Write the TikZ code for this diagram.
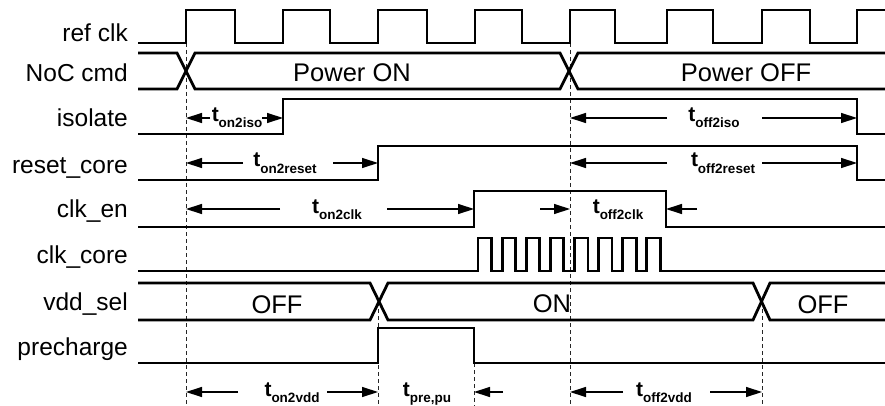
\documentclass[tikz,border=0pt]{standalone}
\usepackage{fontspec}
\setmainfont{Liberation Sans}
\usetikzlibrary{arrows.meta}
\newcommand\tmlab[1]{t\raisebox{-6pt}{\fontsize{13.5}{13.5}\selectfont #1}}
\begin{document}
\begin{tikzpicture}[x=1pt,y=-1pt,
  wave/.style={line width=2.8pt, line join=miter},
  sig/.style={anchor=base east, inner sep=0pt, font=\fontsize{24.5}{26}\selectfont},
  big/.style={anchor=base, inner sep=0pt, font=\fontsize{25.5}{27}\selectfont},
  tarr/.style={line width=1.3pt, -{Triangle[length=16pt 0,width=10pt 0]}},
  guide/.style={line width=0.9pt, dash pattern=on 4pt off 3pt, black!85},
  tlab/.style={anchor=base, inner sep=0pt, font=\bfseries\fontsize{21}{22}\selectfont}]
\fill[white] (0,0) rectangle (885,406);
\useasboundingbox (0,0) rectangle (885,406);

% signal names
\node[sig] (lref) at (128,42) {ref clk};
\node[sig] (lnoc) at (128,82) {NoC cmd};
\node[sig] (liso) at (128,127) {isolate};
\node[sig] (lrst) at (128,173) {reset\_core};
\node[sig] (len)  at (128,217) {clk\_en};
\node[sig] (lcc)  at (128,263) {clk\_core};
\node[sig] (lvdd) at (128,310) {vdd\_sel};
\node[sig] (lpre) at (128,355) {precharge};

% guide lines
\draw[guide] (186,43) -- (186,406);
\draw[guide] (570,43) -- (570,406);
\draw[guide] (378,302) -- (378,406);
\draw[guide] (474,363) -- (474,406);
\draw[guide] (762,302) -- (762,406);

% ref clk
\draw[wave] (138,43) -- (186,43) -- (186,10) -- (235,10) -- (235,43) -- (283,43) -- (283,10)
  -- (330,10) -- (330,43) -- (378,43) -- (378,10) -- (427,10) -- (427,43) -- (475,43) -- (475,10)
  -- (522,10) -- (522,43) -- (570,43) -- (570,10) -- (615,10) -- (615,43) -- (667,43) -- (667,10)
  -- (713,10) -- (713,43) -- (762,43) -- (762,10) -- (810,10) -- (810,43) -- (857,43) -- (857,10) -- (888,10);

% NoC cmd
\draw[wave] (138,53) -- (177,53) -- (195,89) -- (560,89) -- (578,53) -- (888,53);
\draw[wave] (138,89) -- (177,89) -- (195,53) -- (560,53) -- (578,89) -- (888,89);
\node[big] (pon) at (352,82) {Power ON};
\node[big] (poff) at (746,82) {Power OFF};

% isolate
\draw[wave] (138,134) -- (283,134) -- (283,99) -- (857,99) -- (857,134) -- (888,134);
% reset_core
\draw[wave] (138,180) -- (378,180) -- (378,146) -- (857,146) -- (857,180) -- (888,180);
% clk_en
\draw[wave] (138,227) -- (474,227) -- (474,191) -- (666,191) -- (666,227) -- (888,227);
% clk_core
\draw[wave] (138,271) foreach \k in {0,...,7} {
  -- ({478+24.1*\k},271) -- ({478+24.1*\k},238) -- ({491.5+24.1*\k},238) -- ({491.5+24.1*\k},271) }
  -- (888,271);
% vdd_sel
\draw[wave] (138,283) -- (370,283) -- (388,320) -- (753,320) -- (770,283) -- (888,283);
\draw[wave] (138,320) -- (370,320) -- (388,283) -- (753,283) -- (770,320) -- (888,320);
\node[big] (voff1) at (277,313) {OFF};
\node[big] (von) at (552,312) {ON};
\node[big] (voff2) at (823,313) {OFF};
% precharge
\draw[wave] (138,363) -- (378,363) -- (378,328) -- (474,328) -- (474,363) -- (888,363);

% timing labels
\node[tlab] (ton2iso) at (237,122) {\tmlab{on2iso}};
\node[tlab] (toff2iso) at (714,122) {\tmlab{off2iso}};
\node[tlab] (ton2reset) at (285,167) {\tmlab{on2reset}};
\node[tlab] (toff2reset) at (723,167) {\tmlab{off2reset}};
\node[tlab] (ton2clk) at (337,213) {\tmlab{on2clk}};
\node[tlab] (toff2clk) at (618,213) {\tmlab{off2clk}};
\node[tlab] (ton2vdd) at (292,396) {\tmlab{on2vdd}};
\node[tlab] (tprepu) at (427,396) {\tmlab{pre,pu}};
\node[tlab] (toff2vdd) at (664,396) {\tmlab{off2vdd}};

% timing arrows
\draw[tarr] (210,118) -- (186,118);
\draw[tarr] (262,118) -- (283,118);
\draw[tarr] (667,118) -- (570,118);
\draw[tarr] (762,118) -- (857,118);
\draw[tarr] (243,163) -- (186,163);
\draw[tarr] (333,163) -- (378,163);
\draw[tarr] (667,163) -- (570,163);
\draw[tarr] (762,163) -- (857,163);
\draw[tarr] (280,209) -- (186,209);
\draw[tarr] (387,209) -- (474,209);
\draw[tarr] (540,209) -- (570,209);
\draw[tarr] (697,209) -- (666,209);
\draw[tarr] (238,392) -- (186,392);
\draw[tarr] (327,392) -- (378,392);
\draw[tarr] (503,392) -- (474,392);
\draw[tarr] (623,392) -- (570,392);
\draw[tarr] (710,392) -- (762,392);
\end{tikzpicture}
\end{document}
